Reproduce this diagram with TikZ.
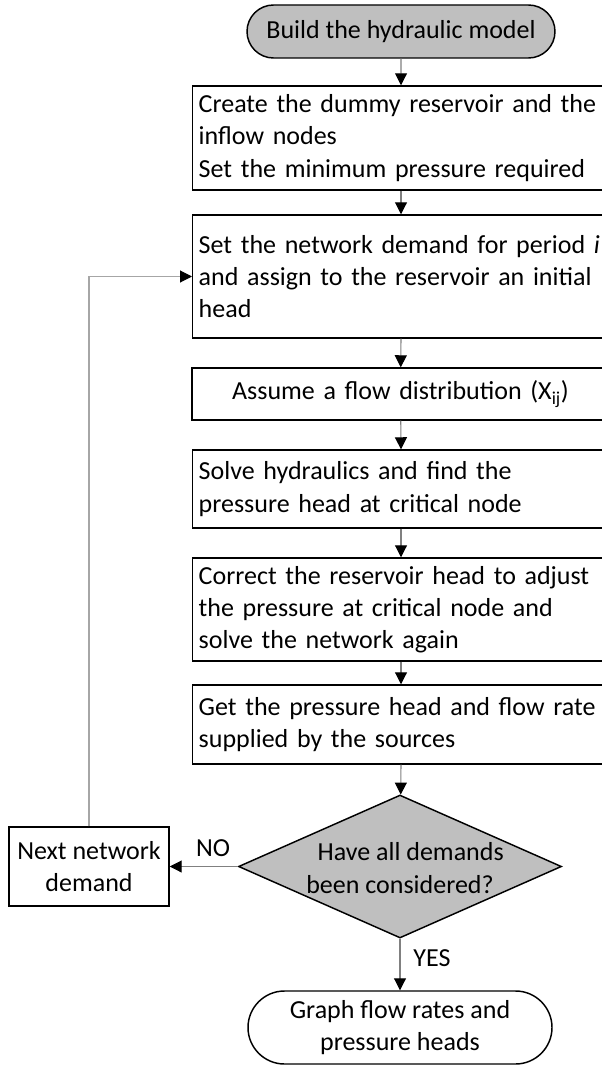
\documentclass[tikz,border=0pt]{standalone}
\usepackage{fontspec}
\setmainfont{Carlito}
\usetikzlibrary{shapes.geometric,shapes.misc,arrows.meta}
\definecolor{fillgray}{HTML}{BFBFBF}
\definecolor{linegray}{HTML}{808080}
\definecolor{loopgray}{HTML}{A6A6A6}
\tikzset{
  base/.style={draw=black,line width=1.1pt,font=\fontsize{19.5pt}{24.2pt}\selectfont},
  procbox/.style={base,rectangle,text width=303.75pt,inner xsep=4.5pt,inner ysep=0pt,align=left,anchor=west},
  procboxc/.style={base,rectangle,text width=303.75pt,inner xsep=4.5pt,inner ysep=0pt,align=center,minimum width=312.75pt},
  term/.style={base,rounded rectangle,inner sep=0pt,align=center},
  conn/.style={draw=linegray,line width=0.8pt,-{Triangle[width=9pt,length=9pt,black,fill=black]}},
  loopconn/.style={draw=loopgray,line width=0.8pt,-{Triangle[width=9pt,length=9pt,black,fill=black]}},
  lbl/.style={font=\fontsize{19.5pt}{24.2pt}\selectfont,inner sep=0pt}
}
\begin{document}
\begin{tikzpicture}[x=0.75pt,y=-0.75pt]
\clip (0,0) rectangle (602,1066);
\node[term,fill=fillgray,minimum width=231pt,minimum height=39.75pt] (start) at (401,31.5) {Build the hydraulic model};
\node[procbox,minimum height=78pt] (b2) at (192,138) {Create the dummy reservoir and the\\inflow nodes\\Set the minimum pressure required};
\node[procbox,minimum height=92.25pt] (b3) at (192,276.5) {Set the network demand for period \textit{i}\\and assign to the reservoir an initial\\head};
\node[procboxc,minimum height=39pt] (b4) at (400.5,394) {Assume a flow distribution (X\textsubscript{ij})};
\node[procbox,minimum height=58.5pt] (b5) at (192,489) {Solve hydraulics and find the\\pressure head at critical node};
\node[procbox,minimum height=77.25pt] (b6) at (192,609.5) {Correct the reservoir head to adjust\\the pressure at critical node and\\solve the network again};
\node[procbox,minimum height=59.25pt] (b7) at (192,724.5) {Get the pressure head and flow rate\\supplied by the sources};
\node[base,diamond,fill=fillgray,minimum width=242.25pt,minimum height=107.25pt,inner sep=0pt] (dec) at (400,866.5) {};
\node[lbl,align=center] (dectext) at (400,868) {\hspace*{16pt}Have all demands\\been considered?};
\node[base,rectangle,align=center,inner sep=0pt,minimum width=120pt,minimum height=59.25pt] (next) at (89,866.5) {Next network\\demand};
\node[term,minimum width=228pt,minimum height=54.75pt] (end) at (400,1027.5) {Graph flow rates and\\pressure heads};
\node[lbl] (no) at (213,848) {NO};
\node[lbl] (yes) at (432,958) {YES};
\draw[conn] (start) -- (start |- b2.north);
\draw[conn] (start |- b2.south) -- (start |- b3.north);
\draw[conn] (start |- b3.south) -- (b4);
\draw[conn] (b4) -- (start |- b5.north);
\draw[conn] (start |- b5.south) -- (start |- b6.north);
\draw[conn] (start |- b6.south) -- (start |- b7.north);
\draw[conn] (start |- b7.south) -- (dec);
\draw[conn] (dec.west) -- (next.east);
\draw[conn] (dec.south) -- (end.north);
\draw[loopconn] (next.north) |- (b3.west);
\end{tikzpicture}
\end{document}
